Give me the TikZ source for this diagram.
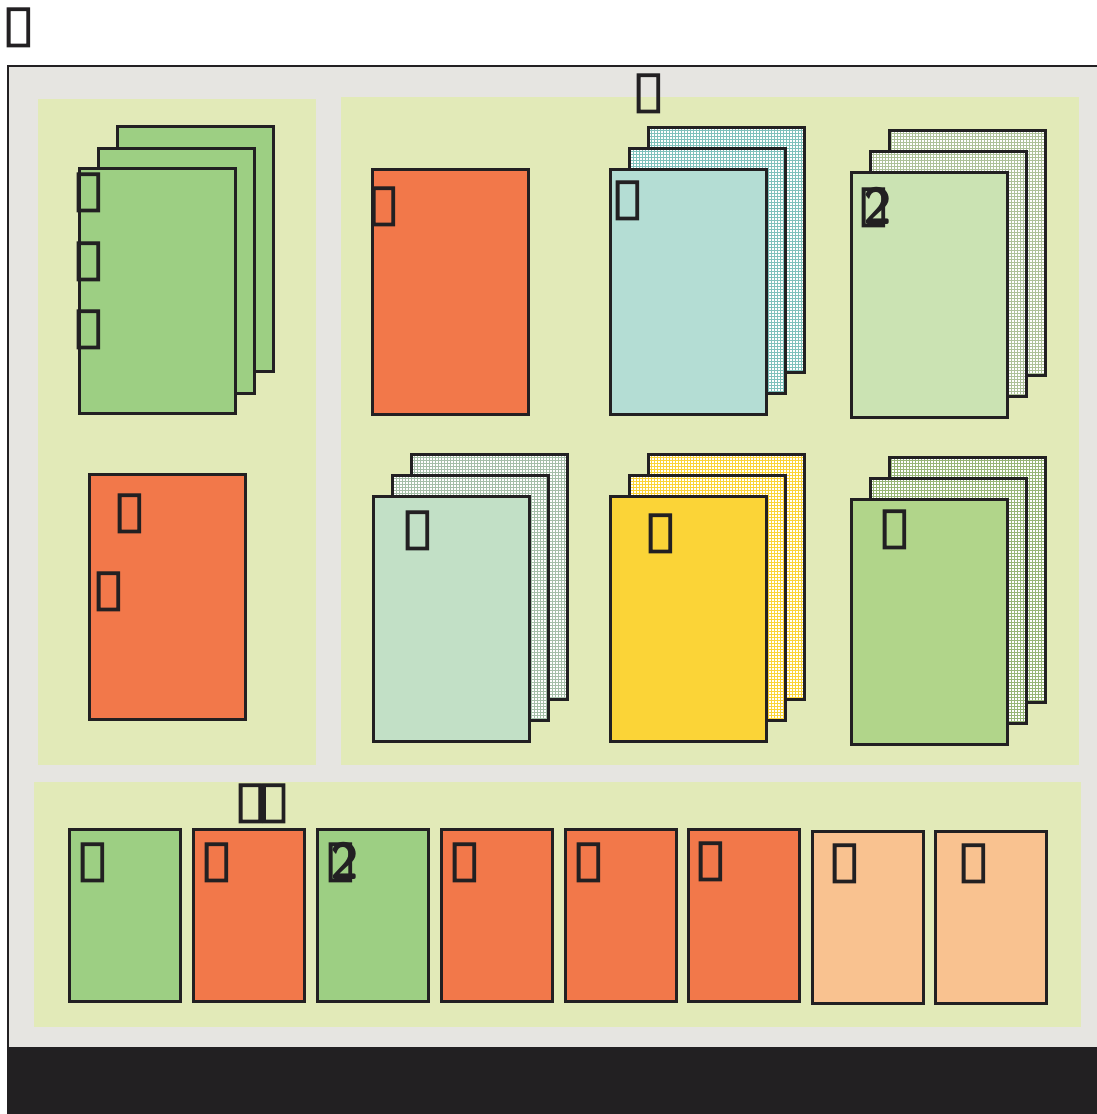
\documentclass[tikz,border=0pt]{standalone}
\usepackage{fontspec}
\newfontfamily\boxfont{DejaVu Sans}[FakeBold=3]
\usetikzlibrary{patterns, positioning}

\definecolor{framegray}{HTML}{E6E5E1}
\definecolor{inkdark}{HTML}{222022}
\definecolor{panelgreen}{HTML}{E2EAB8}
\definecolor{leafgreen}{HTML}{9DCF83}
\definecolor{brickorange}{HTML}{F2784A}
\definecolor{mintblue}{HTML}{B4DDD4}
\definecolor{palegreen}{HTML}{CBE3B3}
\definecolor{sagegreen}{HTML}{C2E0C6}
\definecolor{sunyellow}{HTML}{FBD437}
\definecolor{mossgreen}{HTML}{B1D58A}
\definecolor{peach}{HTML}{F9C290}

\newcommand{\tofu}{{\boxfont\XeTeXglyph0\relax}}
\newcommand{\tofutwo}{\makebox[0pt][l]{\tofu}\hspace{3pt}\raisebox{-5pt}{\fontsize{52}{52}\selectfont\sffamily\bfseries 2}}

\begin{document}
\begin{tikzpicture}[
    x=1pt, y=-1pt,
    font=\fontsize{44}{44}\selectfont,
    % Estilos
    panel/.style={fill=panelgreen, draw=none},
    sheet/.style={rectangle, draw=inkdark, line width=2.8pt, anchor=north west, inner sep=0pt},
    tallsheet/.style={sheet, minimum width=156pt, minimum height=245pt},
    smallsheet/.style={sheet, minimum width=111pt, minimum height=172pt},
    backsheet/.style={tallsheet, preaction={fill=white}, pattern=grid, pattern color=#1},
    lbl/.style={anchor=base west, inner sep=0pt, text=inkdark, yshift=6pt}
]
\useasboundingbox (0,0) rectangle (1097,1114);

% -------------------------
% MARCO
% -------------------------
\node[lbl] (title) at (5,45) {\tofu};
\draw[fill=framegray, draw=inkdark, line width=2pt] (8,66) rectangle (1100,1048);
\fill[inkdark] (7,1048) rectangle (1100,1116);

\fill[panelgreen] (38,99) rectangle (316,765);
\fill[panelgreen] (341,97) rectangle (1079,765);
\fill[panelgreen] (34,782) rectangle (1081,1027);

% -------------------------
% PANEL IZQUIERDO
% -------------------------
\node[tallsheet, fill=leafgreen] (leftback) at (116,125) {};
\node[tallsheet, fill=leafgreen] (leftmid) at (97,147) {};
\node[tallsheet, fill=leafgreen] (leftfront) at (78,167) {};
\node[lbl] (lefta) at (75,210) {\tofu};
\node[lbl] (leftb) at (75,279) {\tofu};
\node[lbl] (leftc) at (75,347) {\tofu};

\node[tallsheet, fill=brickorange] (leftsingle) at (88,473) {};
\node[lbl] (singlea) at (116,531) {\tofu};
\node[lbl] (singleb) at (95,609) {\tofu};

% -------------------------
% PANEL DERECHO
% -------------------------
\node[lbl] (righttitle) at (635,111) {\tofu};

\node[tallsheet, fill=brickorange] (oneorange) at (371,168) {};
\node[lbl] (oneorangelbl) at (370,224) {\tofu};

\node[backsheet=mintblue!70!teal] (blueback) at (647,126) {};
\node[backsheet=mintblue!70!teal] (bluemid) at (628,147) {};
\node[tallsheet, fill=mintblue] (bluefront) at (609,168) {};
\node[lbl] (bluelbl) at (614,218) {\tofu};

\node[backsheet=palegreen!85!black] (paleback) at (888,129) {};
\node[backsheet=palegreen!85!black] (palemid) at (869,150) {};
\node[tallsheet, fill=palegreen] (palefront) at (850,171) {};
\node[lbl] (palelbl) at (860,225) {\tofutwo};

\node[backsheet=sagegreen!85!black] (sageback) at (410,453) {};
\node[backsheet=sagegreen!85!black] (sagemid) at (391,474) {};
\node[tallsheet, fill=sagegreen] (sagefront) at (372,495) {};
\node[lbl] (sagelbl) at (404,548) {\tofu};

\node[backsheet=sunyellow] (sunback) at (647,453) {};
\node[backsheet=sunyellow] (sunmid) at (628,474) {};
\node[tallsheet, fill=sunyellow] (sunfront) at (609,495) {};
\node[lbl] (sunlbl) at (647,551) {\tofu};

\node[backsheet=mossgreen!85!black] (mossback) at (888,456) {};
\node[backsheet=mossgreen!85!black] (mossmid) at (869,477) {};
\node[tallsheet, fill=mossgreen] (mossfront) at (850,498) {};
\node[lbl] (mosslbl) at (881,547) {\tofu};

% -------------------------
% PANEL INFERIOR
% -------------------------
\node[lbl] (bottomtitle) at (237,821) {\tofu\kern-3pt\tofu};

\node[smallsheet, fill=leafgreen] (rowa) at (68,828) {};
\node[smallsheet, fill=brickorange] (rowb) at (192,828) {};
\node[smallsheet, fill=leafgreen] (rowc) at (316,828) {};
\node[smallsheet, fill=brickorange] (rowd) at (440,828) {};
\node[smallsheet, fill=brickorange] (rowe) at (564,828) {};
\node[smallsheet, fill=brickorange] (rowf) at (687,828) {};
\node[smallsheet, fill=peach] (rowg) at (811,830) {};
\node[smallsheet, fill=peach] (rowh) at (934,830) {};

\node[lbl] (rowalbl) at (79,880) {\tofu};
\node[lbl] (rowblbl) at (203,880) {\tofu};
\node[lbl] (rowclbl) at (327,880) {\tofutwo};
\node[lbl] (rowdlbl) at (451,880) {\tofu};
\node[lbl] (rowelbl) at (575,880) {\tofu};
\node[lbl] (rowflbl) at (697,879) {\tofu};
\node[lbl] (rowglbl) at (831,881) {\tofu};
\node[lbl] (rowhlbl) at (960,881) {\tofu};

\end{tikzpicture}
\end{document}
